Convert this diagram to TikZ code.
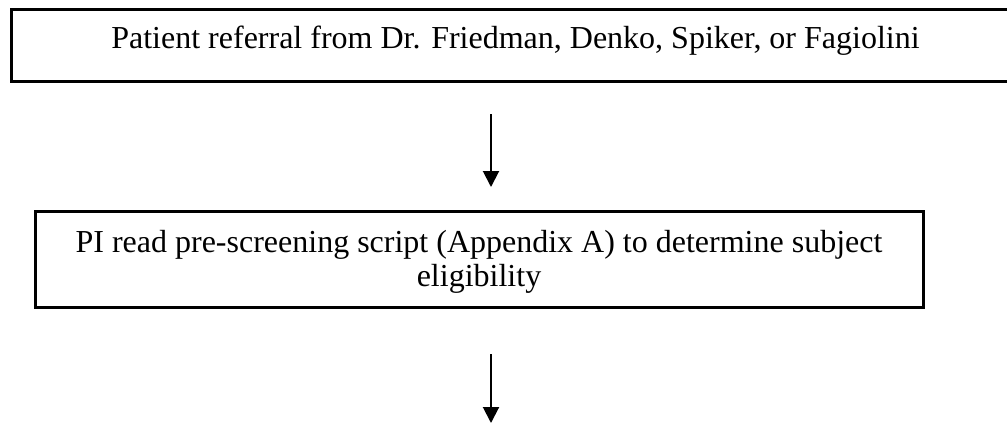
\documentclass[tikz,border=0pt]{standalone}
\usepackage{fontspec}
\setmainfont{Liberation Serif}
\usetikzlibrary{arrows.meta}
\tikzset{
  flowbox/.style={draw, line width=3pt, inner sep=0pt, align=center,
    font=\fontsize{32}{34}\selectfont},
  flowarrow/.style={line width=2pt, -{Triangle[width=16pt,length=16pt]}}
}
\begin{document}
\begin{tikzpicture}[x=1pt,y=-1pt]
  \useasboundingbox (0,0) rectangle (1007,424);
  \clip (0,0) rectangle (1007,424);
  \node[flowbox, minimum width=1009pt, minimum height=72pt,
        text height=20pt, text depth=14pt] (referral) at (515.5,45)
    {Patient referral from Dr. Friedman, Denko, Spiker, or Fagiolini};
  \node[flowbox, minimum width=888pt, minimum height=96pt,
        text height=60pt, text depth=6pt] (prescreen) at (479,259)
    {PI read pre-screening script (Appendix A) to determine subject\\eligibility};
  \coordinate (a1s) at (491,114);
  \coordinate (a1e) at (491,187);
  \coordinate (a2s) at (491,354);
  \coordinate (a2e) at (491,423);
  \draw[flowarrow] (a1s) -- (a1e);
  \draw[flowarrow] (a2s) -- (a2e);
\end{tikzpicture}
\end{document}
